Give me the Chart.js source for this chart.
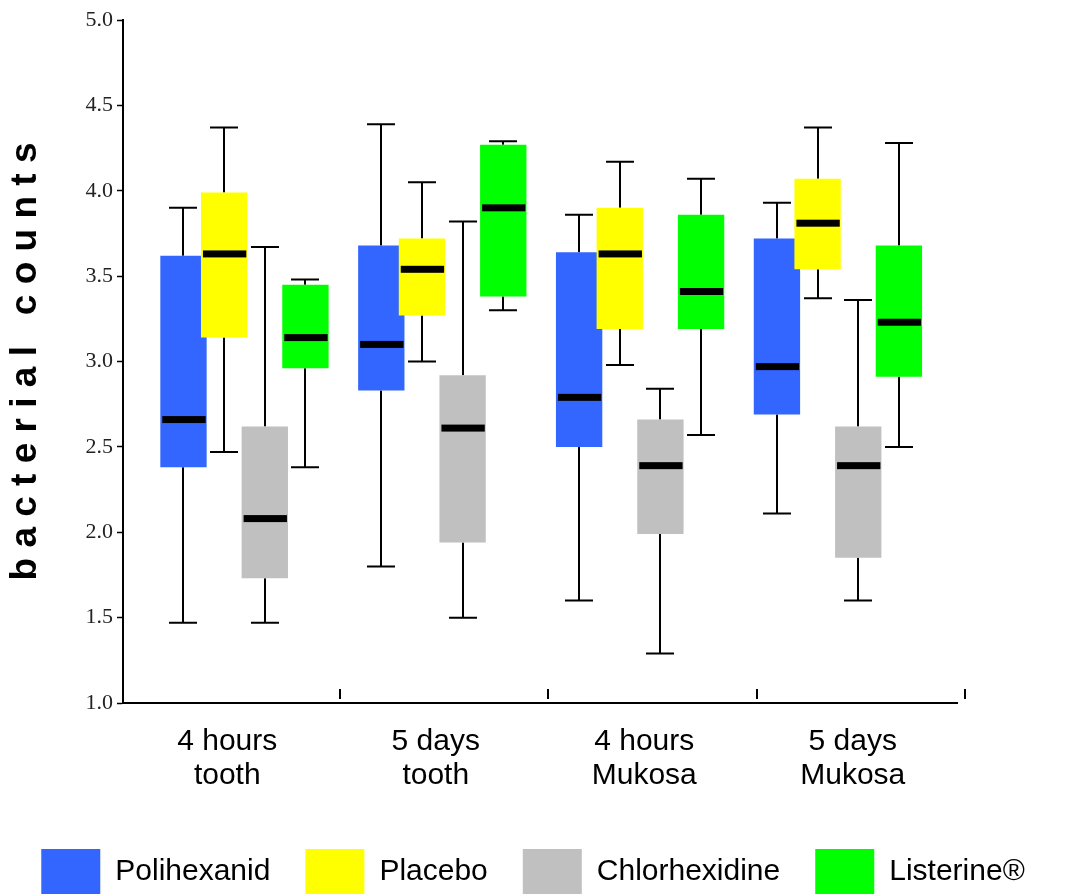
<!DOCTYPE html>
<html>
<head>
<meta charset="utf-8">
<script src="https://cdn.jsdelivr.net/npm/chart.js@4"></script>
<style>
  html, body { margin: 0; padding: 0; background: #fff; overflow: hidden; }
  #wrap { width: 1066px; height: 904px; }
</style>
</head>
<body>
<div id="wrap"><canvas id="boxChart"></canvas></div>
<script>
// groups on the x axis
const categories = [['4 hours', 'tooth'], ['5 days', 'tooth'], ['4 hours', 'Mukosa'], ['5 days', 'Mukosa']];

// y axis range / ticks
const yMin = 1.0;
const yMax = 5.0;
const yStep = 0.5;

// five-number summaries per group: [min, q1, median, q3, max]
const polihexanid = [
    [1.47, 2.38, 2.66, 3.62, 3.90],
    [1.80, 2.83, 3.10, 3.68, 4.39],
    [1.60, 2.50, 2.79, 3.64, 3.86],
    [2.11, 2.69, 2.97, 3.72, 3.93]
];
const placebo = [
    [2.47, 3.14, 3.63, 3.99, 4.37],
    [3.00, 3.27, 3.54, 3.72, 4.05],
    [2.98, 3.19, 3.63, 3.90, 4.17],
    [3.37, 3.54, 3.81, 4.07, 4.37]
];
const chlorhexidine = [
    [1.47, 1.73, 2.08, 2.62, 3.67],
    [1.50, 1.94, 2.61, 2.92, 3.82],
    [1.29, 1.99, 2.39, 2.66, 2.84],
    [1.60, 1.85, 2.39, 2.62, 3.36]
];
const listerine = [
    [2.38, 2.96, 3.14, 3.45, 3.48],
    [3.30, 3.38, 3.90, 4.27, 4.29],
    [2.57, 3.19, 3.41, 3.86, 4.07],
    [2.50, 2.91, 3.23, 3.68, 4.28]
];

const LEGEND_PAD = 35;
const X_AXIS_HEIGHT = 904 - 703 - (45 + LEGEND_PAD + 10);

function boxDataset(label, stats, color) {
    return {
        label: label,
        xAxisID: 'xBox',
        data: stats.map((s, i) => ({ x: i, y: [s[1], s[3]] })),
        stats: stats,
        backgroundColor: color,
        borderWidth: 0
    };
}

// whiskers, medians and the little marks between groups
const boxPlotExtras = {
    id: 'boxPlotExtras',
    beforeDatasetsDraw(chart) {
        const { ctx, scales: { y } } = chart;
        ctx.save();
        ctx.strokeStyle = '#000';
        ctx.lineWidth = 2;
        chart.data.datasets.forEach((ds, di) => {
            chart.getDatasetMeta(di).data.forEach((bar, i) => {
                const [lo, q1, , q3, hi] = ds.stats[i];
                const x = Math.round(bar.x);
                ctx.beginPath();
                ctx.moveTo(x, y.getPixelForValue(q3));
                ctx.lineTo(x, y.getPixelForValue(hi));
                ctx.moveTo(x - 14, y.getPixelForValue(hi));
                ctx.lineTo(x + 14, y.getPixelForValue(hi));
                ctx.moveTo(x, y.getPixelForValue(q1));
                ctx.lineTo(x, y.getPixelForValue(lo));
                ctx.moveTo(x - 14, y.getPixelForValue(lo));
                ctx.lineTo(x + 14, y.getPixelForValue(lo));
                ctx.stroke();
            });
        });
        ctx.restore();
    },
    // boxes are drawn below in series order so later series sit on top
    beforeDatasetDraw() {
        return false;
    },
    afterDatasetsDraw(chart) {
        const { ctx, scales: { y } } = chart;
        chart.data.datasets.forEach((ds, di) => {
            const meta = chart.getDatasetMeta(di);
            meta.controller.draw();
            ctx.save();
            ctx.fillStyle = '#000';
            meta.data.forEach((bar, i) => {
                const yp = y.getPixelForValue(ds.stats[i][2]);
                ctx.fillRect(bar.x - bar.width / 2 + 2, yp - 3.5, bar.width - 3, 7);
            });
            ctx.restore();
        });
    },
    afterDraw(chart) {
        const { ctx, scales: { x }, chartArea } = chart;
        ctx.save();
        ctx.strokeStyle = '#000';
        ctx.lineWidth = 2;
        for (let i = 1; i <= categories.length; i++) {
            const xb = Math.round(x.getPixelForValue(i - 0.5)) + 8;
            ctx.beginPath();
            ctx.moveTo(xb, chartArea.bottom - 4);
            ctx.lineTo(xb, chartArea.bottom - 14);
            ctx.stroke();
        }
        ctx.restore();
    }
};

const ctx = document.getElementById('boxChart').getContext('2d');
new Chart(ctx, {
    type: 'bar',
    data: {
        labels: categories,
        datasets: [
            boxDataset('Polihexanid', polihexanid, '#3366ff'),
            boxDataset('Placebo', placebo, '#ffff00'),
            boxDataset('Chlorhexidine', chlorhexidine, '#c0c0c0'),
            boxDataset('Listerine®', listerine, '#00ff00')
        ]
    },
    options: {
        responsive: true,
        maintainAspectRatio: false,
        animation: false,
        devicePixelRatio: 1,
        layout: {
            padding: { top: 20, right: 0, left: 0, bottom: 0 }
        },
        datasets: {
            bar: {
                categoryPercentage: 0.822,
                barPercentage: 1.14
            }
        },
        plugins: {
            tooltip: { enabled: false },
            legend: {
                position: 'bottom',
                labels: {
                    boxWidth: 59,
                    boxHeight: 45,
                    padding: LEGEND_PAD,
                    color: '#000',
                    font: { family: 'Liberation Sans', size: 30 }
                }
            }
        },
        scales: {
            x: {
                grid: { display: false, drawTicks: false },
                border: { color: '#000', width: 2 },
                ticks: {
                    color: '#000',
                    padding: 21,
                    font: { family: 'Liberation Sans', size: 30, lineHeight: 1.15 }
                },
                afterFit: scale => { scale.height = X_AXIS_HEIGHT; }
            },
            // hidden axis that places the box groups (spacing a bit tighter than the label axis)
            xBox: {
                type: 'linear',
                axis: 'x',
                display: false,
                offset: false,
                grid: { offset: false },
                min: -0.614,
                max: 3.602,
                ticks: { stepSize: 1, includeBounds: false }
            },
            y: {
                min: yMin,
                max: yMax,
                border: { color: '#000', width: 2 },
                grid: { drawOnChartArea: false, tickLength: 6, tickColor: '#000', tickWidth: 1.5 },
                ticks: {
                    stepSize: yStep,
                    padding: 4,
                    color: '#222',
                    font: { family: 'Liberation Serif', size: 22 },
                    callback: v => v.toFixed(1)
                },
                title: {
                    display: true,
                    text: 'b a c t e r i a l   c o u n t s',
                    color: '#000',
                    padding: { top: 4, bottom: 0 },
                    font: { family: 'Liberation Sans', size: 37, weight: 'bold' }
                },
                afterFit: scale => { scale.width = 123; }
            },
            // empty right-hand axis: keeps the plot narrow while the legend gets full width
            yRight: {
                position: 'right',
                grid: { display: false, drawTicks: false },
                border: { display: false },
                ticks: { display: false },
                afterFit: scale => { scale.width = 109; }
            }
        }
    },
    plugins: [boxPlotExtras]
});
</script>
</body>
</html>
